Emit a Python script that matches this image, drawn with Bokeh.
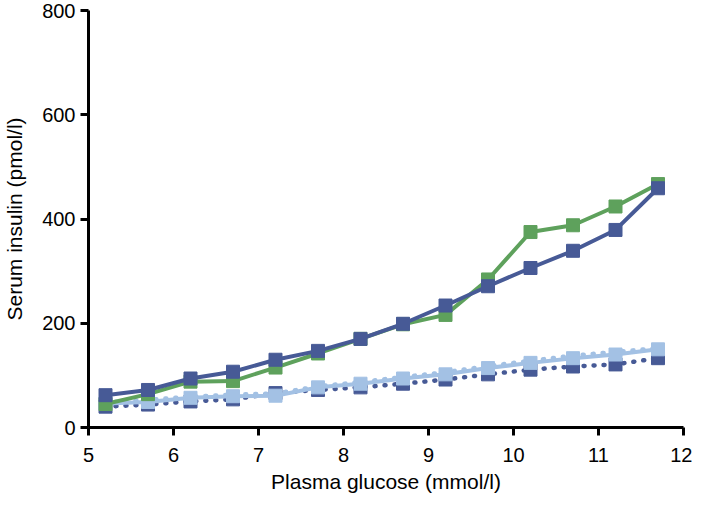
from bokeh.plotting import figure
from bokeh.embed import file_html
from bokeh.resources import INLINE
from bokeh.models import FixedTicker, Range1d

# Data
glucose = [5.2, 5.7, 6.2, 6.7, 7.2, 7.7, 8.2, 8.7, 9.2, 9.7, 10.2, 10.7, 11.2, 11.7]
green_series = [45, 64, 88, 89, 115, 142, 170, 198, 216, 284, 375, 388, 424, 467]
darkblue_solid = [62, 72, 94, 107, 130, 147, 170, 199, 234, 271, 306, 339, 379, 459]
lightblue_solid = [46, 49, 57, 60, 61, 77, 84, 94, 102, 114, 124, 133, 140, 150]
lightblue_dotted = [48, 53, 59, 63, 65, 79, 87, 97, 106, 118, 128, 138, 145, 152]
darkblue_dotted = [40, 44, 50, 54, 66, 72, 77, 84, 92, 102, 111, 117, 121, 133]
x_ticks = [5, 6, 7, 8, 9, 10, 11, 12]
y_ticks = [0, 200, 400, 600, 800]

GREEN = "#5ea15c"
DARK = "#475a96"
LIGHT = "#a3c1e4"
FONT = "Liberation Sans"

p = figure(width=692, height=495, output_backend="svg", toolbar_location=None,
           x_range=Range1d(5, 12), y_range=Range1d(0, 800),
           min_border_left=85, min_border_right=9, min_border_top=10, min_border_bottom=64)
p.grid.visible = False
p.outline_line_color = None
p.background_fill_color = "white"

# lower series
p.line(glucose, darkblue_dotted, line_color=DARK, line_width=4.5, line_dash="1 9", line_cap="round")
p.scatter(glucose, darkblue_dotted, marker="square", size=13, fill_color=DARK, line_color=DARK)
p.line(glucose, lightblue_solid, line_color=LIGHT, line_width=4)
p.line(glucose, lightblue_dotted, line_color=LIGHT, line_width=4.5, line_dash="1 9", line_cap="round")
p.scatter(glucose, lightblue_solid, marker="square", size=13, fill_color=LIGHT, line_color=LIGHT)

# upper series
p.line(glucose, green_series, line_color=GREEN, line_width=4)
p.scatter(glucose, green_series, marker="square", size=13, fill_color=GREEN, line_color=GREEN)
p.line(glucose, darkblue_solid, line_color=DARK, line_width=4)
p.scatter(glucose, darkblue_solid, marker="square", size=13, fill_color=DARK, line_color=DARK)

p.xaxis.ticker = FixedTicker(ticks=x_ticks)
p.yaxis.ticker = FixedTicker(ticks=y_ticks)
for ax in (p.xaxis, p.yaxis):
    ax.axis_line_width = 3
    ax.axis_line_color = "black"
    ax.major_tick_line_width = 3
    ax.major_tick_line_color = "black"
    ax.major_tick_out = 8
    ax.major_tick_in = 0
    ax.minor_tick_line_color = None
    ax.major_label_text_font = FONT
    ax.major_label_text_font_size = "20px"
    ax.major_label_text_color = "black"
    ax.axis_label_text_font = FONT
    ax.axis_label_text_font_size = "21px"
    ax.axis_label_text_font_style = "normal"
    ax.axis_label_text_color = "black"

p.xaxis.axis_label = "Plasma glucose (mmol/l)"
p.yaxis.axis_label = "Serum insulin (pmol/l)"
p.xaxis.major_label_standoff = 12
p.yaxis.major_label_standoff = 5
p.xaxis.axis_label_standoff = 5
p.yaxis.axis_label_standoff = 13

open("out.html", "w").write(file_html(p, INLINE))
